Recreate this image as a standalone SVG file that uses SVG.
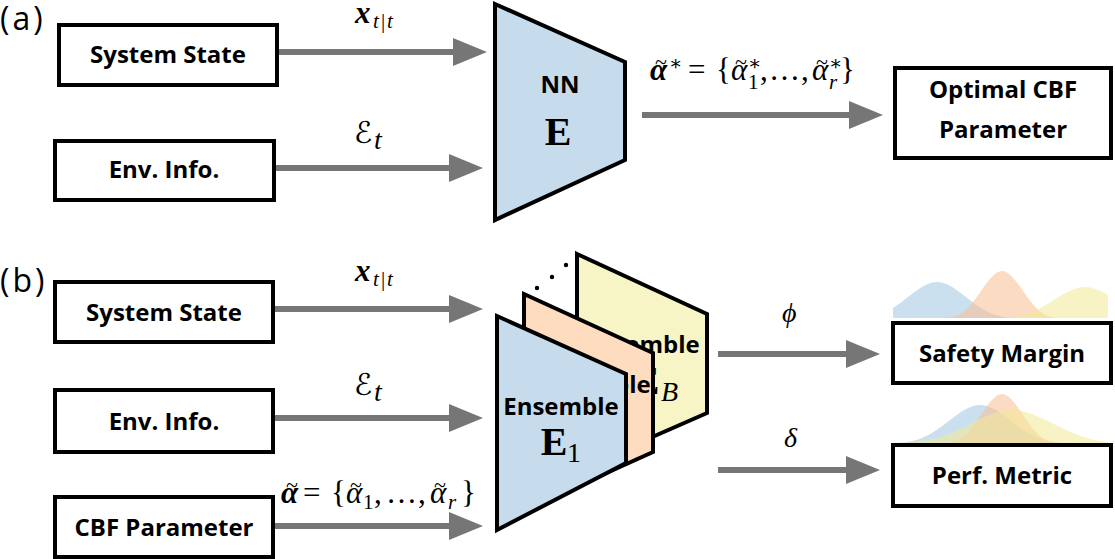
<svg xmlns="http://www.w3.org/2000/svg" width="1115" height="559" viewBox="0 0 1115 559">
<style>
.box{fill:#fff;stroke:#000;stroke-width:4}
.bt{font-family:"Open Sans","Noto Sans",sans-serif;font-weight:bold;font-size:24px;fill:#000;text-anchor:middle}
.lab{font-family:"Open Sans","Noto Sans",sans-serif;font-size:32px;letter-spacing:3px;fill:#000}
.m{font-family:"Liberation Serif","DejaVu Serif",serif;fill:#000;font-size:28px}
.f{font-family:"Liberation Serif","DejaVu Serif",serif;fill:#000;font-size:31px}
.cal{font-family:"DejaVu Serif","DejaVu Sans",serif;fill:#000}
.til{font-family:"Liberation Serif","DejaVu Serif",serif;fill:#000;font-size:22px;text-anchor:middle}
.arr{stroke:#767676;stroke-width:6;fill:none;marker-end:url(#ah)}
.pan{stroke:#000;stroke-width:4;stroke-linejoin:miter}
.bE{font-family:"Liberation Serif","DejaVu Serif",serif;font-weight:bold;font-size:40px;fill:#000;text-anchor:middle}
</style>
<defs>
<marker id="ah" markerUnits="userSpaceOnUse" markerWidth="36" markerHeight="30" refX="0" refY="14" orient="auto" viewBox="0 0 36 30" overflow="visible">
<path d="M0,0 L34,14 L0,28 z" fill="#767676"/>
</marker>
<clipPath id="c1"><rect x="893" y="250" width="215" height="69"/></clipPath>
<clipPath id="c2"><rect x="893" y="380" width="215" height="64"/></clipPath>
</defs>

<text class="lab" x="0" y="30">(a)</text>
<text class="lab" x="0" y="292">(b)</text>

<g id="connectors">
<line class="arr" x1="277" y1="52" x2="453" y2="52"/>
<line class="arr" x1="274" y1="168" x2="449" y2="168"/>
<line class="arr" x1="642" y1="115" x2="849" y2="115"/>
<line class="arr" x1="273" y1="309" x2="449" y2="309"/>
<line class="arr" x1="273" y1="418" x2="449" y2="418"/>
<line class="arr" x1="273" y1="526" x2="449" y2="526"/>
<line class="arr" x1="718" y1="354" x2="846" y2="354"/>
<line class="arr" x1="718" y1="470" x2="846" y2="470"/>
</g>

<g id="labels">
<text class="m"><tspan x="355" y="23" font-weight="bold" font-style="italic" font-size="31">x</tspan><tspan x="373" y="28" font-style="italic" font-size="21">t</tspan><tspan x="381" y="28" font-size="21">|</tspan><tspan x="387" y="28" font-style="italic" font-size="21">t</tspan></text>
<text class="cal"><tspan x="354" y="143" font-size="30">ℰ</tspan><tspan class="m" x="374" y="149" font-style="italic" font-size="21">t</tspan></text>

<text class="f"><tspan x="650" y="80" font-weight="bold" font-style="italic">α</tspan><tspan x="669" y="70" font-size="20">∗</tspan><tspan x="688" y="80">=</tspan><tspan x="716" y="80">{</tspan><tspan x="731" y="80" font-style="italic">α</tspan><tspan x="748" y="70" font-size="20">∗</tspan><tspan x="748" y="89" font-size="21">1</tspan><tspan x="760" y="80">,</tspan><tspan x="769" y="80">…</tspan><tspan x="801" y="80">,</tspan><tspan x="812" y="80" font-style="italic">α</tspan><tspan x="829" y="70" font-size="20">∗</tspan><tspan x="829" y="89" font-size="21" font-style="italic">r</tspan><tspan x="840" y="80">}</tspan></text>
<text class="til" x="661" y="69">~</text><text class="til" x="741" y="69">~</text><text class="til" x="822" y="69">~</text>

<text class="m"><tspan x="355" y="281" font-weight="bold" font-style="italic" font-size="31">x</tspan><tspan x="373" y="286" font-style="italic" font-size="21">t</tspan><tspan x="381" y="286" font-size="21">|</tspan><tspan x="387" y="286" font-style="italic" font-size="21">t</tspan></text>
<text class="cal"><tspan x="354" y="395" font-size="30">ℰ</tspan><tspan class="m" x="374" y="401" font-style="italic" font-size="21">t</tspan></text>

<text class="f"><tspan x="281" y="503" font-weight="bold" font-style="italic">α</tspan><tspan x="303" y="503">=</tspan><tspan x="331" y="503">{</tspan><tspan x="346" y="503" font-style="italic">α</tspan><tspan x="363" y="509" font-size="21">1</tspan><tspan x="374" y="503">,</tspan><tspan x="386" y="503">…</tspan><tspan x="418" y="503">,</tspan><tspan x="430" y="503" font-style="italic">α</tspan><tspan x="448" y="509" font-size="21" font-style="italic">r</tspan><tspan x="461" y="503">}</tspan></text>
<text class="til" x="292" y="492">~</text><text class="til" x="356" y="492">~</text><text class="til" x="440" y="492">~</text>

<text class="m" x="782" y="322" font-style="italic">ϕ</text>
<text class="m" x="784" y="447" font-style="italic">δ</text>
</g>

<g id="a-system-state"><rect class="box" x="59" y="25" width="218" height="60"/><text class="bt" x="168" y="63">System State</text></g>
<g id="a-env-info"><rect class="box" x="55" y="141" width="219" height="59"/><text class="bt" x="164" y="178">Env. Info.</text></g>
<g id="a-nn"><polygon class="pan" fill="#c6dcec" points="495,4 625,62 625,160 495,220"/><text class="bt" x="560" y="93" font-size="22">NN</text><text class="bE" x="558" y="145">E</text></g>
<g id="a-optimal"><rect class="box" x="895" y="68" width="216" height="90"/><text class="bt" x="1003" y="98">Optimal CBF</text><text class="bt" x="1003" y="138">Parameter</text></g>

<g id="b-system-state"><rect class="box" x="55" y="282" width="218" height="60"/><text class="bt" x="164" y="321">System State</text></g>
<g id="b-env-info"><rect class="box" x="55" y="390" width="218" height="62"/><text class="bt" x="164" y="430">Env. Info.</text></g>
<g id="b-cbf-param"><rect class="box" x="55" y="497" width="218" height="60"/><text class="bt" x="164" y="536">CBF Parameter</text></g>

<g id="b-ensemble">
<polygon class="pan" fill="#f7f5c6" points="577,254 707,314 707,413 577,470"/>
<text class="bt" x="642" y="353">Ensemble</text>
<text class="bE" x="646" y="394">E</text><text class="m" font-style="italic" x="661" y="401">B</text>
<polygon class="pan" fill="#fddcc0" points="524,294 653,353 653,452 524,510"/>
<text class="bt" x="593" y="393">Ensemble</text>
<polygon class="pan" fill="#c6dcec" points="497,316 626,374 626,463 497,530"/>
<text class="bt" x="561" y="415">Ensemble</text>
<text class="bE" x="554" y="455">E</text><text class="m" font-size="26" x="567" y="462">1</text>
<circle cx="537" cy="288" r="2.2" fill="#000"/><circle cx="552" cy="277" r="2.2" fill="#000"/><circle cx="566" cy="265" r="2.2" fill="#000"/>
</g>

<g id="b-safety">
<g clip-path="url(#c1)">
<path fill="#a9cbe4" fill-opacity="0.6" d="M853,318 C881,318 890.3,310.7 909,296.2 C918.3,288.9 927.7,282 937,282 C946.3,282 955.7,288.9 965,296.2 C983.7,310.7 993,318 1021,318 Z"/>
<path fill="#f9be92" fill-opacity="0.55" d="M942,318 C962,318 968.7,308.5 982,289.5 C988.7,280 995.3,271 1002,271 C1008.7,271 1015.3,280 1022,289.5 C1035.3,308.5 1042,318 1062,318 Z"/>
<path fill="#f3ea96" fill-opacity="0.55" d="M995,318 C1025,318 1035,311.7 1055,299.2 C1065,292.9 1075,287 1085,287 C1095,287 1105,292.9 1115,299.2 C1135,311.7 1145,318 1175,318 Z"/>
</g>
<rect class="box" x="893" y="323" width="218" height="60"/><text class="bt" x="1002" y="362">Safety Margin</text>
</g>

<g id="b-perf">
<g clip-path="url(#c2)">
<path fill="#a9cbe4" fill-opacity="0.6" d="M890,443 C920,443 930,435.3 950,420 C960,412.3 970,405 980,405 C990,405 1000,412.3 1010,420 C1030,435.3 1040,443 1070,443 Z"/>
<path fill="#f9be92" fill-opacity="0.55" d="M942,443 C962,443 968.7,433.1 982,413.3 C988.7,403.4 995.3,394 1002,394 C1008.7,394 1015.3,403.4 1022,413.3 C1035.3,433.1 1042,443 1062,443 Z"/>
<path fill="#f3ea96" fill-opacity="0.55" d="M892,443 C932,443 945.3,436.3 972,423 C985.3,416.3 998.7,410 1012,410 C1025.3,410 1038.7,416.3 1052,423 C1078.7,436.3 1092,443 1132,443 Z"/>
</g>
<rect class="box" x="893" y="445" width="218" height="61"/><text class="bt" x="1002" y="484">Perf. Metric</text>
</g>
</svg>
